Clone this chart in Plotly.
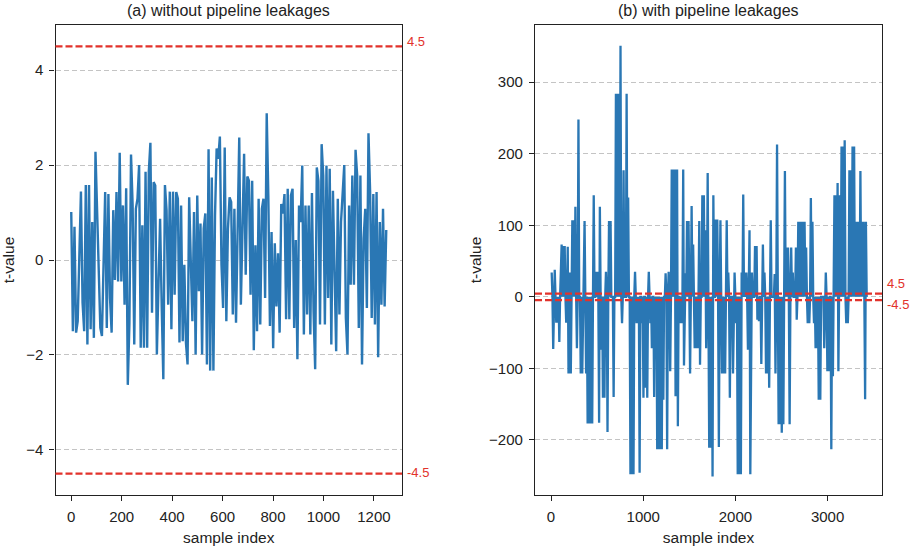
import numpy as np
import plotly.graph_objects as go

# ---------------- data ----------------
left_title = "(a) without pipeline leakages"
right_title = "(b) with pipeline leakages"
threshold = 4.5

# (a) t-values, first and second half of the trace (samples 0..1249)
left_t_a = [1.01, -1.50, 0.70, -1.53, -1.29, 0.31, 1.44, -0.90, -1.50, 1.58,
            -1.78, 1.58, -1.46, 0.80, -1.64, 2.28, 0.98, -0.66, -1.43, -1.60,
            0.17, 1.43, -1.43, 1.39, -0.80, -1.53, 1.05, -0.42, 1.43, -0.45,
            2.26, -0.45, 1.15, -0.94, 1.51, -2.63, -1.34, 2.22, 1.15, -1.78,
            1.08, 1.29, 2.00, -1.85, 0.73, -1.85, 1.86, -1.85, 1.86, 2.47,
            -1.11, 1.64, 1.57, -1.99, -0.52, 0.87, -0.98, -2.51, 1.58, 1.05,
            -0.94, 1.44, -1.46, 1.44, -0.73, 1.43, 1.29, -1.74, 1.15, -1.71,
            -0.10, -1.74, -2.20, 1.32, -0.03, -1.29, 1.01, -1.99, 1.36, -0.66,
            0.77, -1.99, 0.66, 0.98, -2.20, 2.33, -2.33, 1.74, -2.33, 0.94,
            2.35, 2.13, 2.60, -0.10, -1.01, 2.37, -1.29, 0.66]
left_t_b = [1.32, 1.22, -1.15, 1.08, -1.32, 0.80, 2.58, -0.94, 0.73, 2.24,
            -0.31, 1.76, 1.67, -0.73, 1.67, -1.90, 0.31, -1.50, 1.29, -1.36,
            1.08, 1.29, -0.80, 3.09, 1.36, -1.39, 0.59, -1.86, 0.35, -0.98,
            0.14, -1.53, 1.18, 0.98, 1.39, -1.25, 1.50, -1.25, 1.36, 1.50,
            -1.43, 0.42, -2.09, 1.15, 0.80, 1.99, -1.57, 1.15, -1.15, 1.15,
            -1.57, 1.41, -1.08, -2.30, 1.95, 1.67, -1.36, 2.44, 1.78, -1.36,
            1.99, -0.80, 1.92, -1.78, 1.46, -0.10, -1.92, 1.29, -1.15, 0.80,
            1.57, 2.00, -1.22, -1.99, 1.15, -0.52, 1.78, -0.52, 2.32, 1.78,
            -1.43, 1.78, -2.20, 0.45, 1.08, -1.01, 2.67, 1.46, -1.22, 1.39,
            -1.36, 1.43, -2.05, 0.80, -0.94, 1.08, -0.98, 0.63]
left_span = [0, 1249]

# (b) t-values, first and second part of the trace
right_t_a = [34, 0, -73, 0, 38, 0, -36, 0, -36, 0, -63, 0, 33, 73, 0, 71, 0, 71, 0,
             -36, 0, 70, -107, 0, 34, -107, 0, 107, 0, 107, 0, 126, 0, -72, 0,
             248, 0, 0, -107, 0, -107, -52, 0, 106, 0, -107, 0, -177, 0, -177, 0,
             -177, 0, -177, 0, 142, 0, 0, 35, 0, 35, 0, -176, 126, 0, -74, 0,
             -141, 0, -141, 0, 35, 0, -189, 0, 106, 0, 106, 0, 0, 0, -140, 0, 0,
             284, 0, 284, 0, 284, 0, 351, 0, -37, 0, 177, 0, 0, 0, 284, 0, 139, 0,
             0, -248, 0, -248, 0, -248, 0, 35, 0, -37, 0, -37, 0, -246, 0, 0,
             -37, 0, -141, 0, 0, -127, 0, -141, 0, 35, 0, -37, 0, -72, 0, 0,
             -140, 0, -72, 0, -213, 0, -213, 0, -213, 0, -213, 0, -144, 0, 0, 33,
             0, -213, 0, 35, 0, -104, 0, 178, 0, 178, 0, 178, -139, 0, 178, -181,
             0, 0, -37, 0, -37, 0, 178, -96, 0, 33, 0, 106, 0, 106, 0, -107, 0,
             127, 0, 73, 0, -72, 0, -72, 0, -72, 0, 106, -95, 0, 0, 142, 0, 142,
             0, 93, -72, 0, 173, 0, -211, 0]
right_t_b = [-211, 0, -251, 142, 0, 0, 108, 0, 108, 0, -210, 0, 107, 0, -107, 0,
             -107, 0, -107, 0, 107, 0, 34, 0, -141, 0, 0, 0, -107, 0, 34, 0, -37,
             0, -248, 0, -248, 0, -248, 34, 0, 143, 0, 34, 0, 34, 0, -74, 0, 93,
             -248, 0, 34, 0, 0, 0, 71, 0, 71, -32, 0, -34, 0, 0, -94, 0, 73, 0,
             34, 0, -107, 0, -107, 0, -127, 0, 107, 0, 0, 0, 0, 32, -107, 0, 213,
             0, -178, 0, -178, 0, -190, 0, -178, 0, 176, 0, 69, 0, 69, 0, -178,
             0, 69, 0, 34, 0, 0, 0, 69, -32, 0, 105, 0, 105, 0, 105, 0, 105, 0,
             105, 0, 69, 0, -37, 0, -37, 0, 138, 0, 105, 0, -37, 0, -72, 0, -72,
             0, -144, 0, -144, 0, 0, 0, 0, -72, 0, 34, 0, -104, 0, -104, 0, 0,
             -213, 0, -111, 0, 142, 0, 142, 0, 159, -104, 0, 142, 0, 210, 0, 210,
             0, 219, 0, -37, 0, -37, 0, 177, 0, 177, 0, 210, 0, 210, 0, 105, 0,
             105, 0, 105, 0, 176, 0, 105, 0, 105, 0, -143, 105, 0]
right_spans = [[7, 1724], [1735, 3424]]

left_xticks = [0, 200, 400, 600, 800, 1000, 1200]
left_yticks = [-4, -2, 0, 2, 4]
right_xticks = [0, 1000, 2000, 3000]
right_yticks = [-200, -100, 0, 100, 200, 300]

# ---------------- build series ----------------
left_t = left_t_a + left_t_b
left_x = np.linspace(left_span[0], left_span[1], len(left_t))
right_x = np.concatenate([np.linspace(right_spans[0][0], right_spans[0][1], len(right_t_a)),
                          np.linspace(right_spans[1][0], right_spans[1][1], len(right_t_b))])
right_t = right_t_a + right_t_b

W, H = 917, 549
FONT = "Liberation Sans, Arial, sans-serif"
BLUE = "#2a77b4"
RED = "#e2322b"

def px_x(p):
    return p / W

def px_y(p):
    return 1 - p / H

fig = go.Figure()
fig.add_trace(go.Scatter(x=left_x, y=left_t, mode="lines",
                         line=dict(color=BLUE, width=2.4), xaxis="x", yaxis="y",
                         showlegend=False, hoverinfo="skip"))
fig.add_trace(go.Scatter(x=right_x, y=right_t, mode="lines",
                         line=dict(color=BLUE, width=2.3), xaxis="x2", yaxis="y2",
                         showlegend=False, hoverinfo="skip"))

axis_common = dict(showline=True, linecolor="#222222", linewidth=1.2, mirror=True,
                   ticks="outside", ticklen=5, tickcolor="#222222", tickwidth=1.2,
                   zeroline=False, ticklabelstandoff=3,
                   tickfont=dict(family=FONT, size=15, color="#222222"))

dom_l = [px_x(55.5), px_x(402)]
dom_r = [px_x(535), px_x(882)]
dom_y = [px_y(495), px_y(25)]

grid = dict(showgrid=True, gridcolor="#c4c4c4", griddash="5px,3px", gridwidth=1)
tfont = dict(family=FONT, size=15.5, color="#222222")

fig.update_layout(
    width=W, height=H, margin=dict(l=0, r=0, t=0, b=0, autoexpand=False),
    paper_bgcolor="white", plot_bgcolor="white",
    font=dict(family=FONT, size=15, color="#222222"),
    xaxis=dict(domain=dom_l, range=[-62.45, 1311.45], tickvals=left_xticks,
               showgrid=False, anchor="y",
               title=dict(text="sample index", standoff=8, font=tfont),
               **axis_common),
    yaxis=dict(domain=dom_y, range=[-4.95, 4.95], tickvals=left_yticks,
               anchor="x", title=dict(text="t-value", standoff=12, font=tfont),
               **grid, **axis_common),
    xaxis2=dict(domain=dom_r, range=[-174, 3590], tickvals=right_xticks,
                showgrid=False, anchor="y2",
                title=dict(text="sample index", standoff=8, font=tfont),
                **axis_common),
    yaxis2=dict(domain=dom_y, range=[-277, 380], tickvals=right_yticks,
                anchor="x2", title=dict(text="t-value", standoff=3, font=tfont),
                **grid, **axis_common),
)

# threshold lines
for xr, yr in [("x domain", "y"), ("x2 domain", "y2")]:
    for v in (threshold, -threshold):
        fig.add_shape(type="line", xref=xr, yref=yr, x0=0, x1=1, y0=v, y1=v,
                      line=dict(color=RED, width=2.2, dash="7px,3px"), layer="above")

# threshold labels
ann = [
    dict(xref="x domain", yref="y", y=threshold, text="4.5", yanchor="bottom", yshift=-5),
    dict(xref="x domain", yref="y", y=-threshold, text="-4.5", yanchor="bottom", yshift=-8),
    dict(xref="x2 domain", yref="y2", y=threshold, text="4.5", yanchor="bottom", yshift=1),
    dict(xref="x2 domain", yref="y2", y=-threshold, text="-4.5", yanchor="top", yshift=5),
]
for a in ann:
    fig.add_annotation(x=1, xanchor="left", xshift=3, showarrow=False,
                       font=dict(family=FONT, size=13, color=RED), **a)

# subplot titles
for dom, t in [(dom_l, left_title), (dom_r, right_title)]:
    fig.add_annotation(x=(dom[0] + dom[1]) / 2, y=px_y(11), xref="paper", yref="paper",
                       text=t, showarrow=False, xanchor="center", yanchor="middle",
                       font=dict(family=FONT, size=16, color="#222222"))

fig.write_html("out.html", config={"displayModeBar": False},
               post_script="document.body.style.margin='0';")
